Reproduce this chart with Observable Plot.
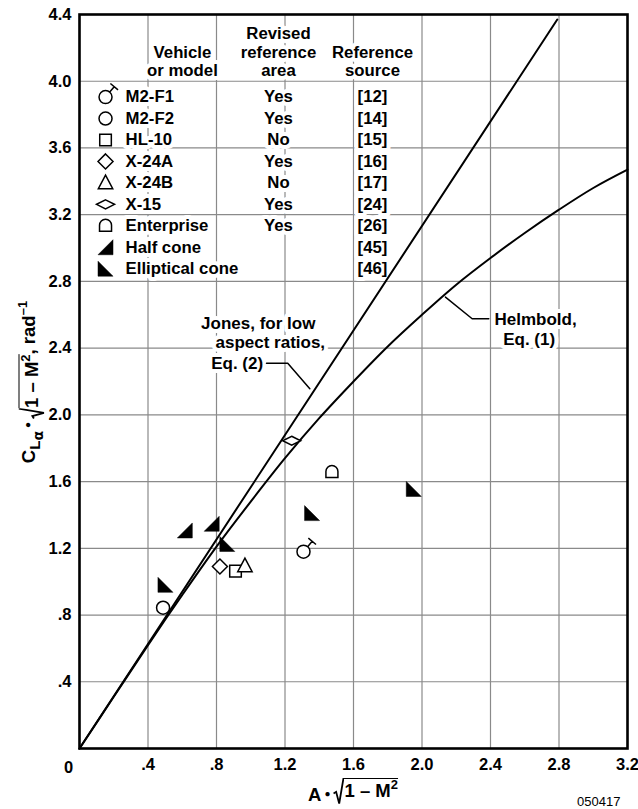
<!DOCTYPE html>
<html><head><meta charset="utf-8">
<script src="https://cdn.jsdelivr.net/npm/d3@7"></script>
<script src="https://cdn.jsdelivr.net/npm/@observablehq/plot@0.6"></script>
<style>
html,body{margin:0;padding:0;background:#fff;}
#wrap{position:relative;width:638px;height:809px;font-family:"Liberation Sans",Arial,Helvetica,sans-serif;}
.lab{position:absolute;font-weight:bold;font-size:18.5px;white-space:nowrap;line-height:1;color:#000;}
.rad{display:inline-flex;align-items:stretch;vertical-align:bottom;}
.rad svg{display:block;width:11px;height:auto;}
.ov{border-top:1.8px solid #000;padding-top:3px;display:inline-block;}
.ov sup{font-size:13px;line-height:0;vertical-align:8px;}
.dot{font-size:10px;vertical-align:4px;margin:0 3px;}
#note{position:absolute;left:577px;top:794px;font-size:13px;font-family:"Liberation Sans",Arial,sans-serif;}
</style>
</head><body>
<div id="wrap"></div>
<script>
// ---- data ----
const xTicks = [0, 0.4, 0.8, 1.2, 1.6, 2.0, 2.4, 2.8, 3.2];
const yTicks = [0.4, 0.8, 1.2, 1.6, 2.0, 2.4, 2.8, 3.2, 3.6, 4.0, 4.4];

const vehicles = ["M2-F1","M2-F2","HL-10","X-24A","X-24B","X-15","Enterprise","Half cone","Elliptical cone"];
const revised  = ["Yes","Yes","No","Yes","No","Yes","Yes","",""];
const refs     = ["[12]","[14]","[15]","[16]","[17]","[24]","[26]","[45]","[46]"];

const pointVehicle = ["M2-F1","M2-F2","HL-10","X-24A","X-24B","X-15","Enterprise",
  "Half cone","Half cone","Elliptical cone","Elliptical cone","Elliptical cone","Elliptical cone"];
const pointA  = [1.308, 0.488, 0.911, 0.820, 0.966, 1.239, 1.474, 0.615, 0.772, 0.502, 0.863, 1.358, 1.952];
const pointCL = [1.180, 0.844, 1.063, 1.091, 1.095, 1.845, 1.658, 1.307, 1.347, 0.981, 1.226, 1.411, 1.556];

const helmA  = [0, 0.2, 0.4, 0.6, 0.8, 1.0, 1.2, 1.4, 1.6, 1.8, 2.0, 2.2, 2.4, 2.6, 2.8, 3.0, 3.2];
const helmCL = [0, 0.31, 0.62, 0.92, 1.21, 1.48, 1.74, 1.98, 2.20, 2.41, 2.60, 2.78, 2.94, 3.09, 3.23, 3.36, 3.47];

const jonesA  = [0, 2.79];
const jonesCL = [0, 4.37];

const jonesLabel = ["Jones, for low", "aspect ratios,", "Eq. (2)"];
const helmLabel  = ["Helmbold,", "Eq. (1)"];

// ---- layout (data units) ----
const jonesLabelX = [0.710, 0.794, 0.769], jonesLabelY = [2.546, 2.432, 2.306];
const helmLabelX  = [2.423, 2.474],        helmLabelY  = [2.570, 2.450];
const jonesLeader = [[1.092, 2.31], [1.216, 2.31], [1.345, 2.157]];
const helmLeader  = [[2.39, 2.576], [2.293, 2.576], [2.137, 2.706]];
const leg = {sym: 0.152, name: 0.269, rev: 1.162, ref: 1.711, head1: 0.601, row0: 3.905, step: 0.1286};

// ---- symbols ----
function poly(c, pts){ c.moveTo(pts[0][0], pts[0][1]); for (const p of pts.slice(1)) c.lineTo(p[0], p[1]); c.closePath(); }
const symbols = {
  "M2-F1": {draw(c){ const r=6.5; c.moveTo(r,0); c.arc(0,0,r,0,2*Math.PI);
      const dx=Math.cos(50*Math.PI/180), dy=-Math.sin(50*Math.PI/180);
      const sx=r*dx, sy=r*dy, ex=(r+7)*dx, ey=(r+7)*dy, px=-dy, py=dx;
      c.moveTo(sx,sy); c.lineTo(ex,ey); c.moveTo(ex-5*px,ey-5*py); c.lineTo(ex+5*px,ey+5*py); }},
  "M2-F2": {draw(c){ const r=6.5; c.moveTo(r,0); c.arc(0,0,r,0,2*Math.PI); }},
  "HL-10": {draw(c){ poly(c, [[-5.8,-5.8],[5.8,-5.8],[5.8,5.8],[-5.8,5.8]]); }},
  "X-24A": {draw(c){ poly(c, [[0,-7.5],[7.5,0],[0,7.5],[-7.5,0]]); }},
  "X-24B": {draw(c){ poly(c, [[0,-7.8],[7.2,5.8],[-7.2,5.8]]); }},
  "X-15":  {draw(c){ poly(c, [[0,-4.5],[9,0],[0,4.5],[-9,0]]); }},
  "Enterprise": {draw(c){ c.moveTo(-6,5.5); c.lineTo(-6,-0.5); c.arc(0,-0.5,6,Math.PI,2*Math.PI); c.lineTo(6,5.5); c.closePath(); }},
  "Half cone": {draw(c){ poly(c, [[7.5,-7.5],[7.5,7.5],[-7.5,7.5]]); }},
  "Elliptical cone": {draw(c){ poly(c, [[-7.5,-7.5],[7.5,7.5],[-7.5,7.5]]); }}
};
const filled = v => v === "Half cone" || v === "Elliptical cone";

const points = pointVehicle.map((v,i) => ({v, a: pointA[i], cl: pointCL[i]}));
const helm = helmA.map((a,i) => ({a, cl: helmCL[i]}));
const jones = jonesA.map((a,i) => ({a, cl: jonesCL[i]}));
const rows = vehicles.map((v,i) => ({v, rev: revised[i], ref: refs[i], y: leg.row0 - i*leg.step}));

const fmt = d => d === 0 ? "0" : d.toFixed(1).replace(/^0\./, ".");
const FONT = '"Liberation Sans", Arial, Helvetica, sans-serif';
const halo = {fill: "black", stroke: "white", strokeWidth: 8, fontWeight: "bold", fontFamily: FONT};
const LF = 16.75, TF = 16.5;

const marks = [
  Plot.gridX(xTicks, {stroke: "#8a8a8a", strokeOpacity: 1, strokeWidth: 1.2}),
  Plot.gridY(yTicks, {stroke: "#8a8a8a", strokeOpacity: 1, strokeWidth: 1.2}),
  Plot.axisX(xTicks.filter(d => d > 0), {label: null, tickSize: 0, tickPadding: 10, tickFormat: fmt, fontSize: TF, fontWeight: "bold"}),
  Plot.text(xTicks.filter(d => d === 0), {x: d => d, y: 0, text: fmt, dx: -11, dy: 19, fontSize: TF, fontWeight: "bold"}),
  Plot.axisY(yTicks, {label: null, tickSize: 0, tickPadding: 8, tickFormat: fmt, fontSize: TF, fontWeight: "bold"}),
  // legend headers
  Plot.text(["Vehicle\nor model"], {x: leg.head1, y: 4.119, text: d => d, lineHeight: 1.1, fontSize: LF, ...halo}),
  Plot.text(["Revised\nreference\narea"], {x: leg.rev, y: 4.177, text: d => d, lineHeight: 1.12, fontSize: LF, ...halo}),
  Plot.text(["Reference\nsource"], {x: leg.ref, y: 4.119, text: d => d, lineHeight: 1.1, fontSize: LF, ...halo}),
  // legend rows
  Plot.text(rows, {x: leg.name, y: "y", text: "v", textAnchor: "start", fontSize: LF, ...halo}),
  Plot.text(rows.filter(r => r.rev), {x: leg.rev, y: "y", text: "rev", fontSize: LF, ...halo}),
  Plot.text(rows, {x: leg.ref, y: "y", text: "ref", fontSize: LF, ...halo}),
  // annotations
  Plot.text(jonesLabel, {x: (d,i) => jonesLabelX[i], y: (d,i) => jonesLabelY[i], text: d => d, textAnchor: "start", fontSize: 17, ...halo}),
  Plot.text(helmLabel, {x: (d,i) => helmLabelX[i], y: (d,i) => helmLabelY[i], text: d => d, textAnchor: "start", fontSize: 17, ...halo}),
  Plot.line(jonesLeader, {x: d => d[0], y: d => d[1], stroke: "black", strokeWidth: 1.5}),
  Plot.line(helmLeader, {x: d => d[0], y: d => d[1], stroke: "black", strokeWidth: 1.5}),
  // curves
  Plot.line(jones, {x: "a", y: "cl", stroke: "black", strokeWidth: 2}),
  Plot.line(helm, {x: "a", y: "cl", stroke: "black", strokeWidth: 2, curve: "catmull-rom"}),
  Plot.frame({stroke: "black", strokeWidth: 2.6})
];
for (const v of vehicles) {
  const style = filled(v) ? {fill: "black", stroke: "black", strokeWidth: 0.5} : {fill: "white", stroke: "black", strokeWidth: 1.5};
  marks.push(Plot.dot(points.filter(p => p.v === v), {x: "a", y: "cl", r: 5, symbol: symbols[v], ...style}));
  marks.push(Plot.dot(rows.filter(r => r.v === v), {x: leg.sym, y: "y", r: 5, symbol: symbols[v], ...style}));
}

const chart = Plot.plot({
  width: 638, height: 809,
  marginLeft: 79, marginRight: 11, marginTop: 14, marginBottom: 61,
  x: {domain: [0, 3.2], axis: null, label: null},
  y: {domain: [0, 4.4], axis: null, label: null},
  style: {fontFamily: FONT, fontSize: "15px", fontWeight: "bold", background: "white", color: "black"},
  marks
});
const wrap = document.getElementById("wrap");
wrap.appendChild(chart);

const radSvg = '<svg viewBox="0 0 10 24" preserveAspectRatio="none"><path d="M0.5,14 L2.8,12.6 L5.6,23.2 L9.4,0.85 L10,0.85" fill="none" stroke="#000" stroke-width="1.8" vector-effect="non-scaling-stroke"/></svg>';
const xl = document.createElement("div");
xl.className = "lab";
xl.style.left = "353px"; xl.style.top = "778px"; xl.style.transform = "translateX(-50%)";
xl.innerHTML = 'A<span class="dot">●</span><span class="rad">' + radSvg + '<span class="ov">1 – M<sup>2</sup></span></span>';
wrap.appendChild(xl);

const yl = document.createElement("div");
yl.className = "lab";
yl.style.left = "30px"; yl.style.top = "382px"; yl.style.transform = "translate(-50%,-50%) rotate(-90deg)";
yl.innerHTML = 'C<span style="font-size:15px;vertical-align:-5px">L<span style="font-size:14px;vertical-align:-3px;font-family:\'DejaVu Sans\'">α</span></span><span class="dot">●</span><span class="rad">' + radSvg + '<span class="ov">1 – M<sup>2</sup></span></span>, rad<span style="font-size:13px;vertical-align:8px">–1</span>';
wrap.appendChild(yl);

const note = document.createElement("div");
note.id = "note"; note.textContent = "050417";
wrap.appendChild(note);
</script>
</body></html>
